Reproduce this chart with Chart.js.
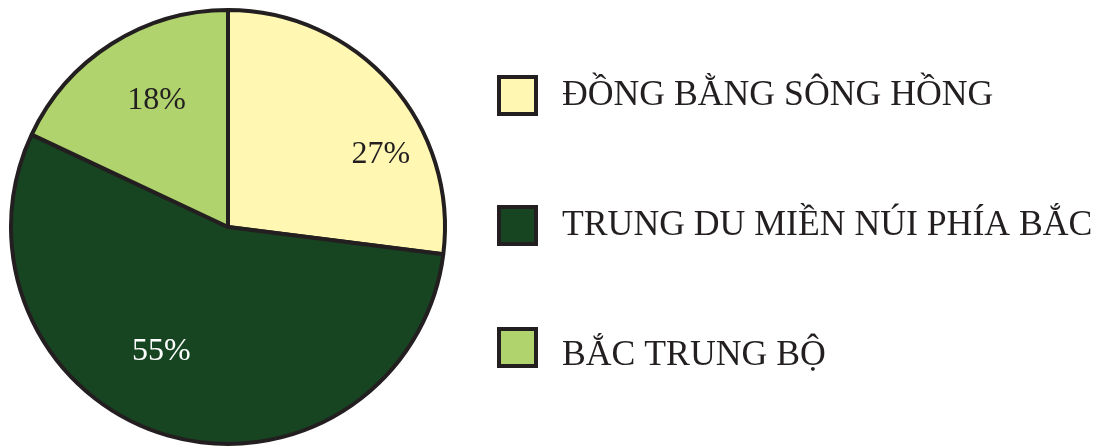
<!DOCTYPE html>
<html>
<head>
<meta charset="utf-8">
<script src="https://cdn.jsdelivr.net/npm/chart.js@4"></script>
<style>
  html, body { margin: 0; padding: 0; background: #fff; }
  #wrap { width: 1101px; height: 448px; position: relative; }
</style>
</head>
<body>
<div id="wrap"><canvas id="regionPie"></canvas></div>
<script>
	// chart data
	const regions = ['ĐỒNG BẰNG SÔNG HỒNG', 'TRUNG DU MIỀN NÚI PHÍA BẮC', 'BẮC TRUNG BỘ'];
	const shares = [27, 55, 18];
	const sliceColors = ['#fff7b2', '#174522', '#b0d36d'];
	const labelColors = ['#231f20', '#ffffff', '#231f20'];

	const ink = '#231f20';

	// percentage labels, placed relative to each arc (angle shift in degrees, radius fraction)
	const sliceLabels = {
		id: 'sliceLabels',
		afterDatasetsDraw(chart, args, opts) {
			const ctx = chart.ctx;
			const meta = chart.getDatasetMeta(0);
			ctx.save();
			ctx.font = '32px "Liberation Serif", "Times New Roman", serif';
			ctx.textAlign = 'center';
			ctx.textBaseline = 'middle';
			meta.data.forEach(function(arc, i) {
				const p = opts.place[i];
				const mid = (arc.startAngle + arc.endAngle) / 2 + p.shift * Math.PI / 180;
				const r = arc.outerRadius * p.r;
				ctx.fillStyle = labelColors[i];
				ctx.fillText(shares[i] + '%', arc.x + Math.cos(mid) * r, arc.y + Math.sin(mid) * r);
			});
			ctx.restore();
		}
	};

	// legend drawn on the right of the pie
	const sideLegend = {
		id: 'sideLegend',
		afterDraw(chart, args, opts) {
			const ctx = chart.ctx;
			ctx.save();
			ctx.font = '35.7px "Liberation Serif", "Times New Roman", serif';
			ctx.textBaseline = 'alphabetic';
			ctx.textAlign = 'left';
			regions.forEach(function(name, i) {
				const it = opts.items[i];
				ctx.fillStyle = ink;
				ctx.fillRect(opts.boxX, it.boxY, opts.box, opts.box);
				ctx.fillStyle = sliceColors[i];
				ctx.fillRect(opts.boxX + 4, it.boxY + 4, opts.box - 8, opts.box - 8);
				ctx.fillStyle = ink;
				ctx.fillText(name, opts.textX, it.base);
			});
			ctx.restore();
		}
	};

	new Chart(document.getElementById('regionPie'), {
		type: 'pie',
		data: {
			labels: regions,
			datasets: [{
				data: shares,
				backgroundColor: sliceColors,
				borderColor: ink,
				borderWidth: 4
			}]
		},
		options: {
			responsive: true,
			maintainAspectRatio: false,
			animation: false,
			layout: {
				padding: { left: 9, top: 8, bottom: 2, right: 654 }
			},
			plugins: {
				legend: { display: false },
				tooltip: { enabled: false },
				sliceLabels: {
					place: [
						{ shift: 16, r: 0.78 },
						{ shift: 12, r: 0.65 },
						{ shift: 3, r: 0.67 }
					]
				},
				sideLegend: {
					boxX: 497,
					box: 41,
					textX: 562,
					items: [
						{ boxY: 75, base: 105 },
						{ boxY: 205, base: 235 },
						{ boxY: 327, base: 365 }
					]
				}
			}
		},
		plugins: [sliceLabels, sideLegend]
	});
</script>
</body>
</html>
